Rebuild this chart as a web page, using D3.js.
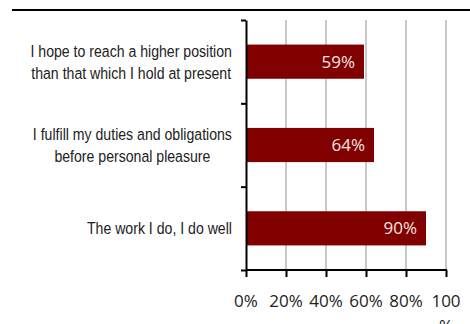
<!DOCTYPE html>
<html>
<head>
<meta charset="utf-8">
<script src="https://cdn.jsdelivr.net/npm/d3@7"></script>
<style>
  html, body { margin: 0; padding: 0; background: #fff; }
  svg { display: block; }
</style>
</head>
<body>
<svg id="chart" width="470" height="324"></svg>
<script>
const categories = [
  ["I hope to reach a higher position", "than that which I hold at present"],
  ["I fulfill my duties and obligations", "before personal pleasure"],
  ["The work I do, I do well"]
];
const values = [0.59, 0.64, 0.90];
const valueLabels = ["59%", "64%", "90%"];
const xTicks = [0, 0.2, 0.4, 0.6, 0.8, 1.0];
const xTickLabels = ["0%", "20%", "40%", "60%", "80%", "100%"];

const svg = d3.select("#chart");
const catFont = "'Liberation Sans Narrow', 'Arial Narrow', 'Liberation Sans', Arial, sans-serif";
const numFont = "'Open Sans', 'Noto Sans', sans-serif";

const x = d3.scaleLinear().domain([0, 1]).range([246, 446]);
const keys = categories.map((c, i) => i);
const y = d3.scaleBand().domain(keys).range([20, 270]).padding(0);
const yEdges = d3.scaleLinear().domain([0, categories.length]).range([20, 270]);

// top rule
svg.append("line")
  .attr("x1", 12).attr("x2", 470).attr("y1", 10).attr("y2", 10)
  .attr("stroke", "#000").attr("stroke-width", 2);

// gridlines
svg.append("g").selectAll("line")
  .data(xTicks.filter(d => d > 0))
  .join("line")
  .attr("x1", d => x(d)).attr("x2", d => x(d))
  .attr("y1", 20).attr("y2", 270)
  .attr("stroke", "#c8c8c8").attr("stroke-width", 2);

// bars
const barFrac = 0.41;
svg.append("g").selectAll("rect")
  .data(values)
  .join("rect")
  .attr("x", x(0))
  .attr("y", (d, i) => y(i) + y.bandwidth() * (1 - barFrac) / 2)
  .attr("width", d => x(d) - x(0))
  .attr("height", y.bandwidth() * barFrac)
  .attr("fill", "#800000");

// value labels
svg.append("g").selectAll("text")
  .data(values)
  .join("text")
  .attr("x", d => x(d) - 9)
  .attr("y", (d, i) => y(i) + y.bandwidth() / 2)
  .attr("dy", "0.36em")
  .attr("text-anchor", "end")
  .attr("font-family", numFont)
  .attr("font-size", 17)
  .attr("fill", "#f4e4e4")
  .text((d, i) => valueLabels[i]);

// x axis
const xAxis = svg.append("g")
  .attr("transform", "translate(0,270)")
  .call(d3.axisBottom(x).tickValues(xTicks).tickSize(7).tickPadding(4).tickFormat(""));
xAxis.select(".domain").attr("stroke", "#000").attr("stroke-width", 2)
  .attr("d", `M${x(0)},0H${x(1) + 1}`);
xAxis.selectAll(".tick line").attr("stroke", "#000").attr("stroke-width", 2);

// x tick labels (last wraps, as in the original)
const xl = svg.append("g").selectAll("text")
  .data(xTicks)
  .join("text")
  .attr("x", d => x(d))
  .attr("y", 307)
  .attr("text-anchor", "middle")
  .attr("font-family", numFont)
  .attr("font-size", 17)
  .attr("fill", "#222");
xl.each(function(d, i) {
  const t = d3.select(this);
  const lab = xTickLabels[i];
  if (lab === "100%") {
    t.append("tspan").attr("x", x(d)).text("100");
    t.append("tspan").attr("x", x(d)).attr("dy", 25).text("%");
  } else {
    t.text(lab);
  }
});

// y axis
const yAxis = svg.append("g")
  .attr("transform", `translate(${x(0)},0)`)
  .call(d3.axisLeft(yEdges).tickValues(d3.range(categories.length + 1)).tickSize(5).tickSizeOuter(0).tickFormat(""));
yAxis.select(".domain").attr("stroke", "#000").attr("stroke-width", 2);
yAxis.selectAll(".tick line").attr("stroke", "#000").attr("stroke-width", 2);

// category labels: block right-aligned, lines centered in block (condensed)
const labelRight = 232;
const lineH = 22;
const sx = 0.83;
categories.forEach((lines, i) => {
  const cy = y(i) + y.bandwidth() / 2;
  const g = svg.append("g");
  const texts = lines.map((ln, j) => g.append("text")
    .attr("y", (j - (lines.length - 1) / 2) * lineH)
    .attr("dy", "0.35em")
    .attr("text-anchor", "middle")
    .attr("font-family", catFont)
    .attr("font-size", 17)
    .attr("fill", "#222")
    .text(ln));
  const w = d3.max(texts, t => t.node().getComputedTextLength()) * sx;
  g.attr("transform", `translate(${labelRight - w / 2},${cy}) scale(${sx},1)`);
});
</script>
</body>
</html>
